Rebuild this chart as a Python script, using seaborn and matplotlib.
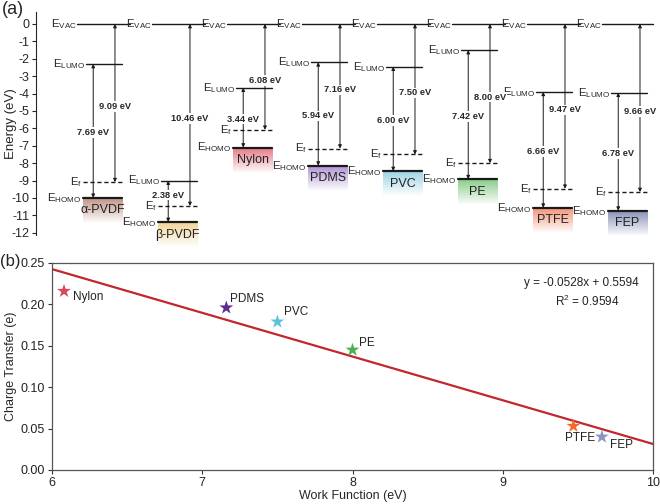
import numpy as np
import pandas as pd
import seaborn as sns
import matplotlib.pyplot as plt
from matplotlib.colors import to_rgb

# **Band diagram values (eV)**
materials = ['α-PVDF', 'β-PVDF', 'Nylon', 'PDMS', 'PVC', 'PE', 'PTFE', 'FEP']
lumo = [-2.30, -9.00, -3.66, -2.20, -2.45, -1.50, -3.90, -3.95]
band_gap = [7.69, 2.38, 3.44, 5.94, 6.00, 7.42, 6.66, 6.78]
work_function = [9.09, 10.46, 6.08, 7.16, 7.50, 8.00, 9.47, 9.66]
box_colors = ['#b98a7c', '#efd08e', '#e2707c', '#a98bd0',
              '#94cfe2', '#82c982', '#f28c6c', '#7f88b2']
energy_ticks = list(range(0, -13, -1))

# **Charge transfer vs work function**
ct_names = ['Nylon', 'PDMS', 'PVC', 'PE', 'PTFE', 'FEP']
ct_wf = [6.08, 7.16, 7.50, 8.00, 9.47, 9.66]
ct_charge = [0.216, 0.196, 0.179, 0.145, 0.053, 0.040]
ct_colors = ['#d9475a', '#5b2c8f', '#5bc4dc', '#4bb050', '#f5692a', '#8b95c0']
fit_slope = -0.0528
fit_intercept = 0.5594
fit_r2 = 0.9594
wf_ticks = [6, 7, 8, 9, 10]
ct_ticks = [0.00, 0.05, 0.10, 0.15, 0.20, 0.25]

sns.set_theme(style='ticks')
plt.rcParams['font.family'] = ['Liberation Sans', 'DejaVu Sans']
plt.rcParams['mathtext.default'] = 'regular'
plt.rcParams['axes.unicode_minus'] = False

fig = plt.figure(figsize=(6.6, 5.04), dpi=100)


def gradient_box(ax, x0, x1, ytop, ybot, color):
    """Colour patch under a HOMO level, fading downwards."""
    rgb = to_rgb(color)
    img = np.zeros((60, 1, 4))
    img[..., :3] = rgb
    img[..., 3] = np.linspace(0.95, 0.05, 60)[:, None]
    ax.imshow(img, extent=(x0, x1, ybot, ytop), aspect='auto', origin='upper',
              interpolation='bilinear', clip_on=False, zorder=1)


def double_arrow(ax, x, y1, y2):
    ax.annotate('', xy=(x, y2), xytext=(x, y1), annotation_clip=False,
                arrowprops=dict(arrowstyle='<|-|>', color='k', lw=0.7,
                                mutation_scale=5, shrinkA=0, shrinkB=0))


def value_label(ax, x, y, val):
    ax.text(x, y, f'{val:.2f} eV', ha='center', va='center', fontsize=6.7,
            fontweight='bold', zorder=4,
            bbox=dict(fc='white', ec='none', pad=0.5))


# **Panel (a): energy levels**
ax1 = fig.add_axes([0.0545, 0.5347, 0.9455, 0.4415])
n = len(materials)
for i, name in enumerate(materials):
    homo = lumo[i] - band_gap[i]
    ef = -work_function[i]

    x_end = i + 1.0 if i < n - 1 else n - 0.03
    ax1.plot([i + 0.30, x_end], [0, 0], color='k', lw=1.0)
    ax1.text(i + 0.295, 0, r'E$_{VAC}$', ha='right', va='center', fontsize=8.2)

    ax1.plot([i + 0.41, i + 0.89], [lumo[i], lumo[i]], color='k', lw=1.0)
    ax1.text(i + 0.405, lumo[i], r'E$_{LUMO}$', ha='right', va='center', fontsize=8.2)

    ax1.plot([i + 0.37, i + 0.89], [ef, ef], color='k', lw=1.0, ls=(0, (3, 2)))
    ax1.text(i + 0.365, ef, r'E$_{f}$', ha='right', va='center', fontsize=8.2)

    gradient_box(ax1, i + 0.37, i + 0.90, homo, homo - 1.4, box_colors[i])
    ax1.plot([i + 0.37, i + 0.90], [homo, homo], color='k', lw=1.6,
             clip_on=False, zorder=3)
    ax1.text(i + 0.355, homo, r'E$_{HOMO}$', ha='right', va='center', fontsize=8.2,
             clip_on=False)
    ax1.text(i + 0.635, homo - 0.72, name, ha='center', va='center',
             fontsize=9, color='#222222', zorder=4, clip_on=False)

    double_arrow(ax1, i + 0.51, lumo[i], homo)
    double_arrow(ax1, i + 0.80, 0, ef)
    gap_y = (lumo[i] + homo) / 2 - 0.1 if band_gap[i] > 3 else (lumo[i] + ef) / 2 - 0.1
    value_label(ax1, i + 0.51, gap_y, band_gap[i])
    value_label(ax1, i + 0.80, ef / 2 - 0.2, work_function[i])

ax1.set_xlim(-0.2533, 8.0667)
ax1.set_ylim(-12.1, 0.69)
ax1.set_yticks(energy_ticks)
ax1.set_yticklabels([str(t) for t in energy_ticks], fontsize=9)
ax1.set_xticks([])
ax1.set_ylabel('Energy (eV)', fontsize=9.5)
ax1.yaxis.set_label_coords(-0.03, 0.5)
for side in ['top', 'right', 'bottom']:
    ax1.spines[side].set_visible(False)
ax1.spines['left'].set_linewidth(0.8)
ax1.tick_params(axis='y', length=3, width=0.8, pad=1.5)

# **Panel (b): charge transfer**
ax2 = fig.add_axes([0.0788, 0.0675, 0.9106, 0.4107])
ct = pd.DataFrame({'Work Function': ct_wf, 'Charge': ct_charge, 'Material': ct_names})
fit = pd.DataFrame({'x': [wf_ticks[0], wf_ticks[-1]]})
fit['y'] = fit_slope * fit['x'] + fit_intercept
sns.lineplot(data=fit, x='x', y='y', color='#c1272d', lw=1.6, ax=ax2, zorder=2)
sns.scatterplot(data=ct, x='Work Function', y='Charge', hue='Material',
                palette=dict(zip(ct_names, ct_colors)), marker='*', s=110,
                edgecolor='none', legend=False, ax=ax2, zorder=3)

# text offsets from each star, in pixels (right, up)
label_offsets = {'Nylon': (9, -6), 'PDMS': (4, 9), 'PVC': (7, 10),
                 'PE': (6, 7), 'PTFE': (-8, -12), 'FEP': (8, -8)}
for name, x, y in zip(ct_names, ct_wf, ct_charge):
    dx, dy = label_offsets[name]
    ax2.annotate(name, (x, y), xytext=(dx, dy), textcoords='offset pixels',
                 ha='left', va='center', fontsize=8.5, color='#222222')

ax2.text(0.88, 0.905, f'y = {fit_slope}x + {fit_intercept}', transform=ax2.transAxes,
         ha='center', va='center', fontsize=8.5, color='#222222')
ax2.text(0.89, 0.815, f'R$^2$ = {fit_r2}', transform=ax2.transAxes,
         ha='center', va='center', fontsize=8.5, color='#222222')

ax2.set_xlim(wf_ticks[0], wf_ticks[-1])
ax2.set_ylim(ct_ticks[0], ct_ticks[-1])
ax2.set_xticks(wf_ticks)
ax2.set_yticks(ct_ticks)
ax2.set_yticklabels([f'{t:.2f}' for t in ct_ticks])
ax2.set_xlabel('Work Function (eV)', fontsize=9, labelpad=1)
ax2.set_ylabel('Charge Transfer (e)', fontsize=9, labelpad=3)
ax2.tick_params(labelsize=9, length=3, width=0.8, pad=2, colors='#333333',
                labelcolor='#222222')
for sp in ax2.spines.values():
    sp.set_color('#555555')
    sp.set_linewidth(0.9)

fig.text(0.003, 0.998, '(a)', fontsize=13, ha='left', va='top')
fig.text(0.0, 0.481, '(b)', fontsize=12, ha='left', va='center')

fig.savefig('out.png', dpi=100)
